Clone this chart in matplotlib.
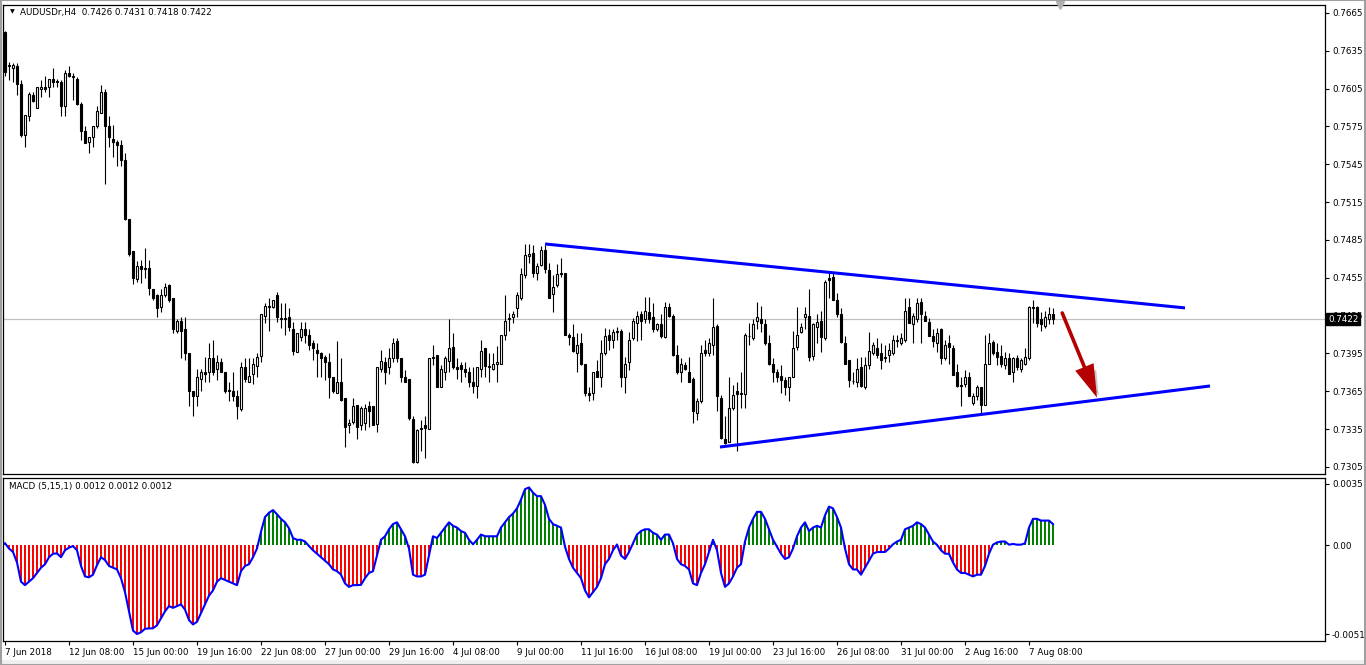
import matplotlib
matplotlib.use("Agg")
import matplotlib.pyplot as plt
import matplotlib.patheffects as pe
import matplotlib.transforms as mtransforms
from matplotlib.patches import FancyArrowPatch, Rectangle
import numpy as np

# ---------------- data (AUDUSDr, H4) ----------------
opens = [
 .7650,.7623,.7621,.7623,.7609,.7568,.7583,.7600,.7590,.7605,
 .7606,.7606,.7613,.7611,.7610,.7591,.7617,.7614,.7613,.7593,
 .7571,.7563,.7567,.7575,.7586,.7602,.7575,.7565,.7563,.7560,
 .7548,.7502,.7476,.7454,.7464,.7463,.7463,.7446,.7441,.7432,
 .7441,.7449,.7439,.7413,.7421,.7414,.7395,.7365,.7361,.7375,
 .7380,.7380,.7391,.7383,.7388,.7380,.7366,.7365,.7361,.7351,
 .7384,.7372,.7379,.7385,.7393,.7425,.7432,.7432,.7441,.7422,
 .7423,.7424,.7414,.7396,.7408,.7414,.7410,.7403,.7398,.7395,
 .7392,.7388,.7376,.7364,.7372,.7360,.7338,.7341,.7354,.7338,
 .7340,.7353,.7353,.7339,.7383,.7388,.7384,.7391,.7405,.7391,
 .7376,.7375,.7343,.7309,.7336,.7338,.7335,.7392,.7394,.7368,
 .7380,.7389,.7400,.7384,.7386,.7383,.7380,.7372,.7369,.7383,
 .7399,.7384,.7383,.7387,.7387,.7410,.7422,.7424,.7431,.7439,
 .7457,.7472,.7475,.7459,.7465,.7477,.7461,.7442,.7449,.7459,
 .7459,.7410,.7408,.7395,.7403,.7387,.7364,.7364,.7381,.7376,
 .7395,.7410,.7406,.7413,.7413,.7376,.7388,.7407,.7419,.7426,
 .7422,.7428,.7424,.7414,.7418,.7408,.7432,.7425,.7394,.7380,
 .7386,.7380,.7375,.7348,.7357,.7398,.7395,.7402,.7417,.7360,
 .7327,.7325,.7352,.7365,.7364,.7363,.7409,.7407,.7421,.7422,
 .7418,.7403,.7387,.7380,.7377,.7374,.7368,.7376,.7400,.7412,
 .7424,.7425,.7393,.7416,.7421,.7407,.7455,.7456,.7437,.7426,
 .7403,.7390,.7373,.7372,.7384,.7368,.7386,.7395,.7399,.7395,
 .7392,.7394,.7395,.7405,.7403,.7406,.7432,.7418,.7422,.7436,
 .7425,.7420,.7409,.7403,.7414,.7391,.7403,.7399,.7380,.7370,
 .7371,.7376,.7356,.7361,.7368,.7354,.7387,.7404,.7396,.7393,
 .7386,.7391,.7380,.7391,.7383,.7387,.7391,.7432,.7432,.7422,
 .7417,.7422,.7426]
highs = [
 .7651,.7626,.7625,.7625,.7612,.7584,.7602,.7602,.7606,.7612,
 .7615,.7613,.7621,.7613,.7612,.7620,.7623,.7617,.7614,.7594,
 .7575,.7567,.7575,.7591,.7608,.7605,.7583,.7576,.7564,.7564,
 .7554,.7502,.7476,.7468,.7469,.7479,.7469,.7446,.7442,.7446,
 .7451,.7450,.7439,.7422,.7424,.7424,.7395,.7365,.7383,.7383,
 .7392,.7403,.7406,.7394,.7391,.7380,.7372,.7380,.7366,.7388,
 .7391,.7391,.7391,.7395,.7426,.7435,.7439,.7437,.7444,.7435,
 .7435,.7431,.7420,.7411,.7420,.7420,.7414,.7406,.7403,.7396,
 .7394,.7395,.7376,.7405,.7391,.7360,.7343,.7360,.7354,.7353,
 .7355,.7357,.7353,.7384,.7398,.7392,.7399,.7407,.7407,.7391,
 .7382,.7375,.7345,.7335,.7342,.7345,.7391,.7402,.7394,.7386,
 .7393,.7422,.7411,.7391,.7388,.7388,.7384,.7384,.7384,.7406,
 .7399,.7395,.7395,.7401,.7410,.7441,.7427,.7429,.7444,.7463,
 .7482,.7482,.7481,.7467,.7480,.7481,.7467,.7457,.7466,.7471,
 .7459,.7411,.7418,.7411,.7411,.7387,.7368,.7380,.7390,.7406,
 .7415,.7414,.7414,.7416,.7414,.7392,.7412,.7423,.7429,.7429,
 .7440,.7440,.7435,.7419,.7426,.7436,.7435,.7426,.7402,.7391,
 .7388,.7392,.7376,.7360,.7402,.7406,.7407,.7439,.7418,.7362,
 .7345,.7376,.7370,.7372,.7380,.7411,.7419,.7422,.7436,.7433,
 .7422,.7410,.7391,.7383,.7386,.7376,.7376,.7413,.7432,.7419,
 .7432,.7446,.7419,.7426,.7429,.7453,.7459,.7459,.7443,.7431,
 .7409,.7390,.7380,.7391,.7392,.7392,.7412,.7404,.7407,.7403,
 .7402,.7403,.7410,.7410,.7411,.7439,.7439,.7427,.7439,.7439,
 .7429,.7423,.7414,.7415,.7415,.7406,.7410,.7402,.7387,.7376,
 .7382,.7380,.7364,.7370,.7368,.7410,.7411,.7406,.7403,.7402,
 .7396,.7395,.7392,.7394,.7391,.7399,.7433,.7437,.7433,.7428,
 .7429,.7432,.7431]
lows = [
 .7615,.7612,.7610,.7600,.7567,.7559,.7579,.7594,.7590,.7598,
 .7602,.7598,.7606,.7606,.7583,.7583,.7614,.7596,.7592,.7564,
 .7562,.7554,.7559,.7574,.7586,.7529,.7559,.7551,.7544,.7544,
 .7501,.7472,.7450,.7452,.7451,.7455,.7441,.7437,.7424,.7428,
 .7440,.7436,.7411,.7411,.7391,.7390,.7353,.7345,.7353,.7365,
 .7372,.7372,.7378,.7374,.7380,.7364,.7357,.7357,.7343,.7349,
 .7372,.7372,.7371,.7376,.7388,.7419,.7413,.7431,.7420,.7415,
 .7410,.7413,.7394,.7396,.7405,.7403,.7398,.7390,.7376,.7376,
 .7374,.7360,.7364,.7364,.7357,.7321,.7332,.7339,.7327,.7334,
 .7334,.7337,.7338,.7333,.7380,.7371,.7379,.7388,.7388,.7372,
 .7372,.7342,.7308,.7308,.7318,.7312,.7335,.7386,.7368,.7368,
 .7374,.7380,.7383,.7375,.7372,.7376,.7368,.7364,.7360,.7376,
 .7376,.7372,.7382,.7372,.7387,.7406,.7413,.7419,.7424,.7437,
 .7455,.7467,.7456,.7453,.7464,.7459,.7439,.7428,.7448,.7456,
 .7410,.7402,.7396,.7380,.7386,.7361,.7357,.7358,.7376,.7368,
 .7394,.7398,.7399,.7406,.7368,.7364,.7382,.7406,.7405,.7406,
 .7419,.7419,.7412,.7413,.7407,.7407,.7424,.7393,.7379,.7372,
 .7382,.7372,.7340,.7342,.7356,.7393,.7393,.7394,.7349,.7327,
 .7323,.7325,.7350,.7318,.7352,.7352,.7402,.7406,.7414,.7412,
 .7402,.7386,.7372,.7372,.7364,.7362,.7357,.7376,.7398,.7411,
 .7414,.7389,.7390,.7403,.7396,.7406,.7439,.7437,.7424,.7403,
 .7387,.7368,.7371,.7368,.7368,.7367,.7383,.7394,.7391,.7383,
 .7388,.7388,.7394,.7400,.7402,.7404,.7419,.7403,.7420,.7403,
 .7421,.7409,.7400,.7396,.7387,.7390,.7387,.7378,.7368,.7353,
 .7368,.7361,.7354,.7358,.7348,.7354,.7387,.7394,.7386,.7384,
 .7383,.7379,.7372,.7382,.7380,.7386,.7390,.7419,.7416,.7413,
 .7415,.7418,.7418]
closes = [
 .7618,.7624,.7624,.7609,.7568,.7584,.7601,.7595,.7606,.7606,
 .7605,.7613,.7610,.7610,.7591,.7617,.7615,.7615,.7593,.7571,
 .7562,.7567,.7575,.7587,.7602,.7575,.7567,.7563,.7560,.7548,
 .7502,.7474,.7455,.7464,.7462,.7462,.7447,.7439,.7431,.7441,
 .7448,.7437,.7414,.7421,.7413,.7395,.7365,.7361,.7376,.7380,
 .7379,.7391,.7380,.7388,.7380,.7365,.7365,.7361,.7353,.7384,
 .7375,.7377,.7387,.7392,.7426,.7433,.7433,.7437,.7424,.7423,
 .7422,.7416,.7397,.7411,.7414,.7410,.7402,.7399,.7395,.7391,
 .7388,.7376,.7365,.7372,.7358,.7337,.7340,.7353,.7337,.7352,
 .7352,.7349,.7338,.7384,.7389,.7380,.7391,.7403,.7391,.7376,
 .7372,.7344,.7309,.7334,.7335,.7336,.7391,.7391,.7368,.7383,
 .7391,.7399,.7384,.7383,.7383,.7380,.7372,.7369,.7384,.7397,
 .7385,.7385,.7387,.7388,.7410,.7421,.7423,.7426,.7441,.7458,
 .7473,.7474,.7459,.7464,.7477,.7462,.7439,.7448,.7458,.7458,
 .7410,.7408,.7397,.7402,.7387,.7364,.7362,.7380,.7376,.7395,
 .7409,.7406,.7412,.7412,.7376,.7387,.7406,.7421,.7425,.7421,
 .7429,.7422,.7414,.7418,.7409,.7432,.7425,.7394,.7380,.7387,
 .7383,.7372,.7349,.7357,.7395,.7395,.7403,.7416,.7361,.7328,
 .7324,.7352,.7362,.7363,.7363,.7410,.7409,.7418,.7424,.7419,
 .7403,.7387,.7380,.7376,.7374,.7368,.7376,.7399,.7410,.7416,
 .7426,.7392,.7418,.7420,.7408,.7452,.7453,.7437,.7426,.7404,
 .7387,.7374,.7373,.7383,.7369,.7386,.7397,.7402,.7394,.7390,
 .7391,.7398,.7406,.7406,.7407,.7429,.7419,.7425,.7435,.7426,
 .7421,.7409,.7405,.7411,.7391,.7402,.7400,.7378,.7369,.7369,
 .7376,.7361,.7361,.7368,.7354,.7387,.7403,.7395,.7392,.7387,
 .7391,.7379,.7391,.7384,.7390,.7392,.7432,.7431,.7419,.7418,
 .7424,.7426,.7422]
macd = [
 0.0001,-0.0002,-0.0004,-0.0010,-0.0021,-0.0023,-0.0021,-0.0019,-0.0016,-0.0013,
 -0.0011,-0.0007,-0.0005,-0.00048,-0.0007,-0.0003,-0.00015,-0.00006,-0.0003,-0.0012,
 -0.0018,-0.00185,-0.0017,-0.00115,-0.0007,-0.00086,-0.0012,-0.0013,-0.0014,-0.0019,
 -0.0027,-0.0038,-0.0049,-0.0051,-0.0050,-0.0048,-0.00478,-0.00477,-0.0046,-0.0042,
 -0.0038,-0.0035,-0.0036,-0.0035,-0.0034,-0.0037,-0.0043,-0.00455,-0.0044,-0.0039,
 -0.0034,-0.0029,-0.0026,-0.0021,-0.0019,-0.0020,-0.0021,-0.0022,-0.0023,-0.0015,
 -0.0012,-0.0011,-0.0007,-0.0002,0.00076,0.0016,0.00185,0.0020,0.00176,0.0015,
 0.0013,0.00096,0.0004,0.0003,0.0003,0.0002,-0.00006,-0.0003,-0.0005,-0.0007,
 -0.0009,-0.0011,-0.0014,-0.0015,-0.0017,-0.0022,-0.0024,-0.0023,-0.0023,-0.00228,
 -0.0019,-0.0016,-0.0015,-0.0006,0.0003,0.0005,0.0009,0.0012,0.0013,0.0009,
 0.0005,-0.0002,-0.0017,-0.0018,-0.0018,-0.0017,-0.0006,0.0005,0.0004,0.0007,
 0.0010,0.0013,0.0011,0.0010,0.0008,0.0007,0.0003,0.00004,0.0003,0.0006,
 0.0005,0.0005,0.0005,0.0005,0.0010,0.0013,0.0016,0.0018,0.0021,0.0026,
 0.0032,0.0033,0.0030,0.0028,0.0028,0.0023,0.0015,0.0012,0.0011,0.0010,
 -0.0001,-0.0008,-0.0013,-0.0016,-0.0019,-0.0026,-0.0030,-0.0027,-0.0024,-0.0019,
 -0.0011,-0.0008,-0.0003,0.00003,-0.0006,-0.0008,-0.0004,0.0001,0.0006,0.0008,
 0.0009,0.0009,0.0007,0.0006,0.0003,0.0006,0.0006,0.0001,-0.0008,-0.0011,
 -0.0012,-0.0014,-0.0022,-0.0023,-0.0016,-0.0011,-0.0004,0.0003,-0.0003,-0.0016,
 -0.0024,-0.0022,-0.0018,-0.0013,-0.0011,0.0002,0.0010,0.0015,0.0019,0.0019,
 0.0015,0.0009,0.0003,-0.0001,-0.0005,-0.0008,-0.0007,-0.0002,0.0005,0.0010,
 0.0013,0.0008,0.0010,0.0011,0.0010,0.0017,0.0022,0.0021,0.0016,0.0010,
 -0.0002,-0.0011,-0.0014,-0.0014,-0.0017,-0.0013,-0.0009,-0.0005,-0.0004,-0.0004,
 -0.0004,-0.0002,0.00004,0.0002,0.0003,0.0009,0.0010,0.0011,0.0013,0.0012,
 0.0010,0.0006,0.0002,0.00001,-0.0003,-0.0005,-0.0005,-0.0010,-0.0014,-0.0016,
 -0.0016,-0.0017,-0.0018,-0.0017,-0.0017,-0.0012,-0.0005,0.00002,0.00015,0.0002,
 0.0002,0.00002,0.00006,0.00002,0.00002,0.0001,0.0010,0.0015,0.0015,0.0014,
 0.0014,0.0014,0.0012]

date_labels = ["7 Jun 2018", "12 Jun 08:00", "15 Jun 00:00", "19 Jun 16:00",
               "22 Jun 08:00", "27 Jun 00:00", "29 Jun 16:00", "4 Jul 08:00",
               "9 Jul 00:00", "11 Jul 16:00", "16 Jul 08:00", "19 Jul 00:00",
               "23 Jul 16:00", "26 Jul 08:00", "31 Jul 00:00", "2 Aug 16:00",
               "7 Aug 08:00"]
date_label_bars = [0, 16, 32, 48, 64, 80, 96, 112, 128, 144, 160, 176,
                   192, 208, 224, 240, 256]
price_ticks = [0.7665, 0.7635, 0.7605, 0.7575, 0.7545, 0.7515, 0.7485,
               0.7455, 0.7425, 0.7395, 0.7365, 0.7335, 0.7305]
macd_ticks = [0.0035, 0.0, -0.0051]
macd_tick_labels = ["0.0035", "0.00", "-0.0051"]

# drawn objects: (bar, price) endpoints
upper_trend = [(135, 0.74818), (295, 0.74311)]
lower_trend = [(178.75, 0.73208), (301.25, 0.73692)]
arrow_pts = [(264.3, 0.74271), (273.0, 0.73600)]

# ---------------- figure ----------------
W, H = 1366, 665
fig = plt.figure(figsize=(W / 100, H / 100), dpi=100)
fig.patch.set_facecolor("white")
plt.rcParams["font.family"] = ["DejaVu Sans"]
FS = 6.3


def rect(l, t, r, b):
    return [l / W, 1 - b / H, (r - l) / W, (b - t) / H]


ax = fig.add_axes(rect(3, 5, 1325, 474))
ax2 = fig.add_axes(rect(3, 478, 1325, 641))

o = np.array(opens); h = np.array(highs); l = np.array(lows); c = np.array(closes)
n = min(len(o), len(h), len(l), len(c))
o, h, l, c = o[:n], h[:n], l[:n], c[:n]
x = np.arange(n)
up = c >= o

ax.vlines(x, l, h, color="black", lw=0.8, zorder=2)
bot = np.minimum(o, c)
hgt = np.maximum(np.abs(c - o), 0.000015)
ax.bar(x[up], hgt[up], bottom=bot[up], width=0.62, facecolor="white",
       edgecolor="black", linewidth=0.8, zorder=3)
ax.bar(x[~up], hgt[~up], bottom=bot[~up], width=0.62, facecolor="black",
       edgecolor="black", linewidth=0.8, zorder=3)

# current price line
ax.axhline(c[-1], color="#c0c0c0", lw=0.9, zorder=1)

# trend lines
for seg in (upper_trend, lower_trend):
    ax.plot([seg[0][0], seg[1][0]], [seg[0][1], seg[1][1]], color="#0000ff",
            lw=2.2, solid_capstyle="butt", zorder=4)

# red arrow
arr = FancyArrowPatch(arrow_pts[0], arrow_pts[1],
                      arrowstyle="-|>,head_length=1.0,head_width=0.3",
                      mutation_scale=18, color="#b40000", lw=2.6, zorder=5,
                      shrinkA=0, shrinkB=0, joinstyle="miter")
arr.set_path_effects([pe.SimplePatchShadow(offset=(3, -3), shadow_rgbFace="#808080",
                                           alpha=0.45), pe.Normal()])
ax.add_patch(arr)

ax.set_xlim(-0.5, 330)
ax.set_ylim(0.72994, 0.76713)
ax.set_xticks([])
ax.yaxis.tick_right()
ax.set_yticks(price_ticks)
ax.set_yticklabels(["%.4f" % v for v in price_ticks], fontsize=FS)
ax.tick_params(axis="y", length=3, width=0.8, pad=2, direction="out")
for sp in ax.spines.values():
    sp.set_linewidth(0.9)
    sp.set_color("black")

# price box (covers the 0.7425 label as in the terminal)
trans = mtransforms.blended_transform_factory(ax.transAxes, ax.transData)
ax.text(1.0 + 3 / 1322, c[-1], "%.4f" % c[-1], transform=trans, fontsize=FS,
        color="white", va="center", ha="left", clip_on=False, zorder=20,
        bbox=dict(boxstyle="square,pad=0.18", facecolor="black", edgecolor="black"))

# shift marker
ax.plot([263.75], [1.0], marker="v", color="#b0b0b0", markersize=6,
        transform=mtransforms.blended_transform_factory(ax.transData, ax.transAxes),
        clip_on=False, zorder=10)

# ---------------- MACD ----------------
m = np.array(macd[:n])
prev = np.concatenate([[m[0]], m[:-1]])
thick = np.where(m >= 0, m > prev, m < prev)
thick[0] = True
cols = np.where(m >= 0, "#008000", "#ff0000")
widths = np.where(thick, 0.62, 0.28)
ax2.bar(x, m, width=widths, color=cols, linewidth=0, zorder=2)
ax2.plot(x, m, color="#0000ff", lw=1.5, zorder=3)

ax2.set_xlim(-0.5, 330)
ax2.set_ylim(-0.0055, 0.00384)
ax2.yaxis.tick_right()
ax2.set_yticks(macd_ticks)
ax2.set_yticklabels(macd_tick_labels, fontsize=FS)
ax2.tick_params(axis="y", length=3, width=0.8, pad=2, direction="out")
ax2.set_xticks(date_label_bars)
ax2.set_xticklabels(date_labels, fontsize=FS)
for lbl in ax2.get_xticklabels():
    lbl.set_ha("left")
ax2.tick_params(axis="x", length=3, width=0.8, pad=2, direction="out")
for sp in ax2.spines.values():
    sp.set_linewidth(0.9)
    sp.set_color("black")

# ---------------- header texts ----------------
fig.text(12 / W, 1 - 12 / H, "\u25BC", fontsize=4.5, va="center", ha="center")
fig.text(20 / W, 1 - 12 / H, "AUDUSDr,H4  %.4f %.4f %.4f %.4f" % (o[-1], h[-1], l[-1], c[-1]),
         fontsize=FS, va="center", ha="left")
fig.text(9 / W, 1 - 487 / H, "MACD (5,15,1) %.4f %.4f %.4f" % (m[-1], m[-1], m[-1]),
         fontsize=FS, va="center", ha="left")

# window frame
fig.patches.append(Rectangle((0, 0), 1, 5 / H, transform=fig.transFigure,
                             facecolor="#f0f0f0", edgecolor="none", zorder=0))
fig.patches.append(Rectangle((0.0005, 0.0005), 0.999, 0.999, transform=fig.transFigure,
                             fill=False, edgecolor="#a0a0a0", lw=1.5, zorder=0))

fig.savefig("out.png", dpi=100, facecolor=fig.get_facecolor())
